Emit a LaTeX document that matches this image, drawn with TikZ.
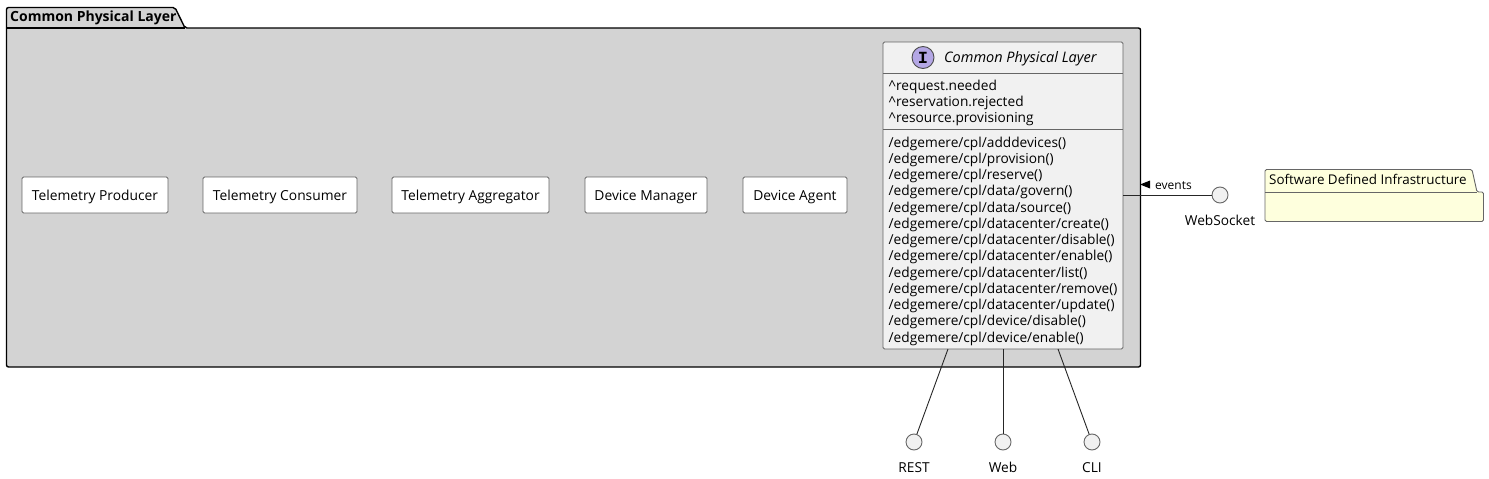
\documentclass[tikz,border=0pt]{standalone}
\usepackage{fontspec}
\setmainfont{Open Sans}
\newfontfamily\spotfont{Liberation Mono}
\usetikzlibrary{positioning}
\definecolor{pkggray}{HTML}{D3D3D3}
\definecolor{ifacefill}{HTML}{F1F1F1}
\definecolor{spotfill}{HTML}{B4A7E5}
\definecolor{notefill}{HTML}{FEFFDD}
\definecolor{edgegray}{HTML}{666666}
\tikzset{
  txt/.style={font=\fontsize{13.7}{16.25}\selectfont,inner sep=0pt},
  service/.style={draw=edgegray,line width=0.9pt,fill=white,rounded corners=1.5pt,minimum height=36pt,inner sep=0pt,text depth=0pt,font=\fontsize{13.8}{16}\selectfont},
  port/.style={circle,draw=edgegray,line width=0.9pt,fill=ifacefill,minimum size=16pt,inner sep=0pt},
  conn/.style={draw=black!85,line width=0.9pt}
}
\begin{document}
\begin{tikzpicture}[x=1pt,y=-1pt]
    \useasboundingbox (0,0) rectangle (1489,479);
    % outer package
    \draw[fill=pkggray,line width=1.4pt,rounded corners=2pt] (6.5,28) -- (6.5,7.5) -- (175,7.5) -- (185,28) -- (1140.5,28) -- (1140.5,367) -- (6.5,367) -- cycle;
    \draw[line width=1.4pt] (6.5,28) -- (185,28);
    \node[txt,anchor=base west,font=\fontsize{14}{16}\selectfont\bfseries] (cpltitle) at (10,21) {Common Physical Layer};
    % services
    \node[service,minimum width=146pt] (producer) at (95,195) {Telemetry Producer};
    \node[service,minimum width=154pt] (consumer) at (280,195) {Telemetry Consumer};
    \node[service,minimum width=157pt] (aggregator) at (470.5,195) {Telemetry Aggregator};
    \node[service,minimum width=122pt] (manager) at (646,195) {Device Manager};
    \node[service,minimum width=104pt] (agent) at (795,195) {Device Agent};
    % interface box
    \node[draw=edgegray,line width=0.9pt,fill=ifacefill,rounded corners=1.5pt,minimum width=240pt,minimum height=307pt,inner sep=0pt] (iface) at (1003,195.5) {};
    \draw[edgegray,line width=0.9pt] (883,73.5) -- (1123,73.5);
    \draw[edgegray,line width=0.9pt] (883,129.5) -- (1123,129.5);
    \node[circle,draw=black!70,line width=0.9pt,fill=spotfill,minimum size=22pt,inner sep=0pt,font=\fontsize{17}{17}\spotfont\bfseries] (spot) at (923,57.5) {I};
    \node[txt,anchor=base west,font=\fontsize{14.5}{16}\selectfont\itshape] (ifacetitle) at (944,62) {Common Physical Layer};
    \node[txt,anchor=north west,align=left] (events) at (888.5,79.5) {\string^request.needed\\\string^reservation.rejected\\\string^resource.provisioning};
    \node[txt,anchor=north west,align=left] (methods) at (888.5,136.5) {/edgemere/cpl/adddevices()\\/edgemere/cpl/provision()\\/edgemere/cpl/reserve()\\/edgemere/cpl/data/govern()\\/edgemere/cpl/data/source()\\/edgemere/cpl/datacenter/create()\\/edgemere/cpl/datacenter/disable()\\/edgemere/cpl/datacenter/enable()\\/edgemere/cpl/datacenter/list()\\/edgemere/cpl/datacenter/remove()\\/edgemere/cpl/datacenter/update()\\/edgemere/cpl/device/disable()\\/edgemere/cpl/device/enable()};
    % ports
    \node[port] (websocket) at (1220,195) {};
    \node[port] (rest) at (914,442) {};
    \node[port] (web) at (1003,442) {};
    \node[port] (cli) at (1092,442) {};
    \node[txt,anchor=base] (websocketlabel) at (1220,225) {WebSocket};
    \node[txt,anchor=base] (restlabel) at (914,472) {REST};
    \node[txt,anchor=base] (weblabel) at (1003,472) {Web};
    \node[txt,anchor=base] (clilabel) at (1092,472) {CLI};
    % connectors
    \coordinate (restend) at (948,349);
    \coordinate (cliend) at (1058,349);
    \coordinate (wsend) at (1123,195);
    \draw[conn] (restend) -- (rest);
    \draw[conn] (iface.south) -- (web);
    \draw[conn] (cliend) -- (cli);
    \draw[conn] (wsend) -- (websocket);
    \fill (1140,184.5) -- (1150,180.5) -- (1150,188.5) -- cycle;
    \node[anchor=base west,inner sep=0pt,font=\fontsize{12}{14}\selectfont] (eventslabel) at (1155,189) {events};
    % note package
    \draw[draw=edgegray,line width=0.9pt,fill=notefill,rounded corners=1.5pt] (1265,192) -- (1265,169.5) -- (1472,169.5) -- (1477,192) -- (1483.5,192) -- (1483.5,221.5) -- (1265,221.5) -- cycle;
    \draw[edgegray,line width=0.9pt] (1265,192) -- (1477,192);
    \node[txt,anchor=base west,font=\fontsize{13.4}{16}\selectfont] (sdititle) at (1269,184) {Software Defined Infrastructure};
\end{tikzpicture}
\end{document}
